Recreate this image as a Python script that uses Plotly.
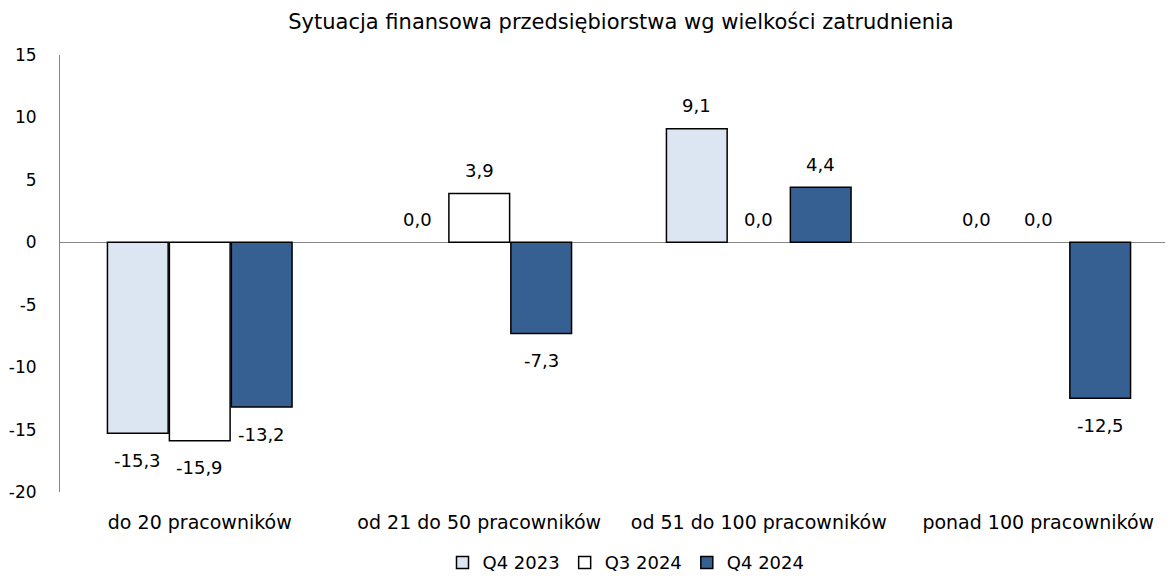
import plotly.graph_objects as go

categories = ["do 20 pracowników", "od 21 do 50 pracowników", "od 51 do 100 pracowników", "ponad 100 pracowników"]
series_names = ["Q4 2023", "Q3 2024", "Q4 2024"]
q4_2023 = [-15.3, 0.0, 9.1, 0.0]
q3_2024 = [-15.9, 3.9, 0.0, 0.0]
q4_2024 = [-13.2, -7.3, 4.4, -12.5]
y_ticks = [-20, -15, -10, -5, 0, 5, 10, 15]

series_values = [q4_2023, q3_2024, q4_2024]
colors = ["#DCE6F2", "#FFFFFF", "#376092"]
FONT = "DejaVu Sans"
BARGAP = 0.335

W, H = 1173, 579
M_L, M_R, M_T, M_B = 52, 8, 47, 95
CAT_PX = 279.5  # pixel width of one category band
plot_w = W - M_L - M_R
x_range = [-0.5, -0.5 + plot_w / CAT_PX]

fig = go.Figure()
for name, vals, col in zip(series_names, series_values, colors):
    fig.add_trace(go.Bar(
        x=list(range(len(categories))), y=vals, name=name,
        marker=dict(color=col,
                    line=dict(color="#000000", width=[1.5 if v != 0 else 0 for v in vals])),
    ))

annotations = []
n = len(series_values)
slot = (1 - BARGAP) / n
for j, vals in enumerate(series_values):
    for i, v in enumerate(vals):
        annotations.append(dict(
            x=i + (j - (n - 1) / 2) * slot, y=v, xref="x", yref="y",
            text=f"{v:.1f}".replace(".", ","), showarrow=False,
            yanchor="middle", yshift=23 if v >= 0 else -27,
            font=dict(family=FONT, size=18, color="#000000"),
        ))

fig.update_layout(
    width=W, height=H,
    paper_bgcolor="white", plot_bgcolor="white",
    margin=dict(l=M_L, r=M_R, t=M_T, b=M_B, autoexpand=False),
    barmode="group", bargap=BARGAP, bargroupgap=0.02,
    font=dict(family=FONT, size=18, color="#000000"),
    title=dict(text="Sytuacja finansowa przedsiębiorstwa wg wielkości zatrudnienia",
               x=613 / W, xref="container", xanchor="center", y=0.976, yref="container",
               yanchor="middle",
               font=dict(family=FONT, size=21, color="#000000")),
    showlegend=True,
    legend=dict(orientation="h", x=618 / W, xref="container", xanchor="center",
                y=0.042, yref="container", yanchor="middle",
                font=dict(family=FONT, size=18), itemwidth=30, traceorder="normal",
                itemclick=False),
    annotations=annotations,
)
fig.update_xaxes(
    tickmode="array", tickvals=list(range(len(categories))), ticktext=categories,
    range=x_range, showline=False, showgrid=False,
    zeroline=False, ticks="", ticklabelstandoff=17, automargin=False,
    tickfont=dict(family=FONT, size=19),
)
fig.update_yaxes(
    range=[-20, 15], tickmode="array", tickvals=y_ticks,
    ticktext=[str(t) for t in y_ticks], showgrid=False,
    showline=True, linecolor="#868686", linewidth=1,
    zeroline=True, zerolinecolor="#868686", zerolinewidth=1,
    ticks="", ticklabelstandoff=19, automargin=False,
    tickfont=dict(family=FONT, size=17),
)

fig.write_html("out.html")
